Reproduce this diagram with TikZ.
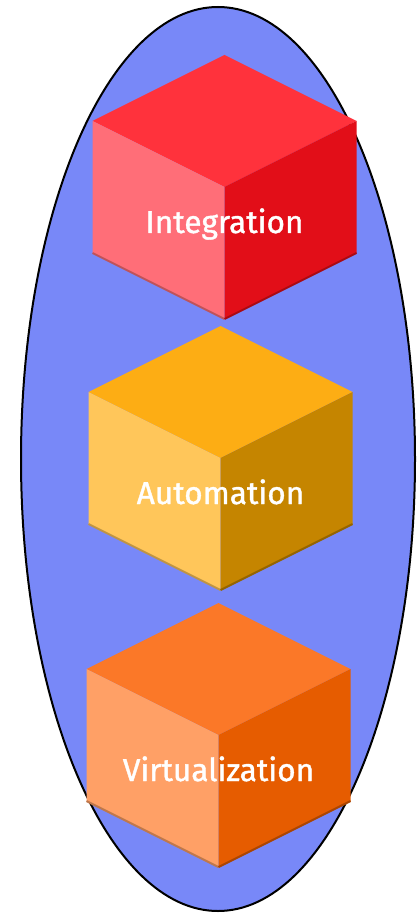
\documentclass[tikz,border=0pt]{standalone}
\usepackage{fontspec}
\newfontfamily\cubefont[FakeBold=1.2]{Fira Sans}
\definecolor{bluebg}{HTML}{7888F8}
\definecolor{redT}{HTML}{FF323C}
\definecolor{redL}{HTML}{FF6E78}
\definecolor{redR}{HTML}{E20E18}
\definecolor{yelT}{HTML}{FDAD14}
\definecolor{yelL}{HTML}{FFC65A}
\definecolor{yelR}{HTML}{C58500}
\definecolor{oraT}{HTML}{FB7828}
\definecolor{oraL}{HTML}{FFA066}
\definecolor{oraR}{HTML}{E65C00}

\begin{document}
\begin{tikzpicture}[x=0.5pt,y=-0.5pt,
    rim/.style={line width=1pt},
    cubetext/.style={text=white,font=\cubefont\fontsize{15.8}{18}\selectfont,anchor=base,inner sep=0pt}]
  \useasboundingbox (0,0) rectangle (418,914);
  \draw[fill=bluebg,line width=1pt] (218,459) ellipse [x radius=197,y radius=452];
  \foreach \cx/\cy/\col/\txt in {224.5/187/red/Integration,
                                 220.5/458/yel/Automation,
                                 218.5/735/ora/Virtualization}{
    \begin{scope}[shift={(\cx,\cy)}]
      \fill[\col T] (0,0) -- (-132,-66) -- (0,-132) -- (132,-66) -- cycle;
      \fill[\col L] (0,0) -- (-132,-66) -- (-132,66) -- (0,132) -- cycle;
      \fill[\col R] (0,0) -- (132,-66) -- (132,66) -- (0,132) -- cycle;
      \draw[rim,\col L!75!black] (-132,66) -- (0,132);
      \draw[rim,\col R!75!black] (0,132) -- (132,66);
      \node[cubetext] (\txt) at (0,46) {\txt};
    \end{scope}
  }
\end{tikzpicture}
\end{document}
